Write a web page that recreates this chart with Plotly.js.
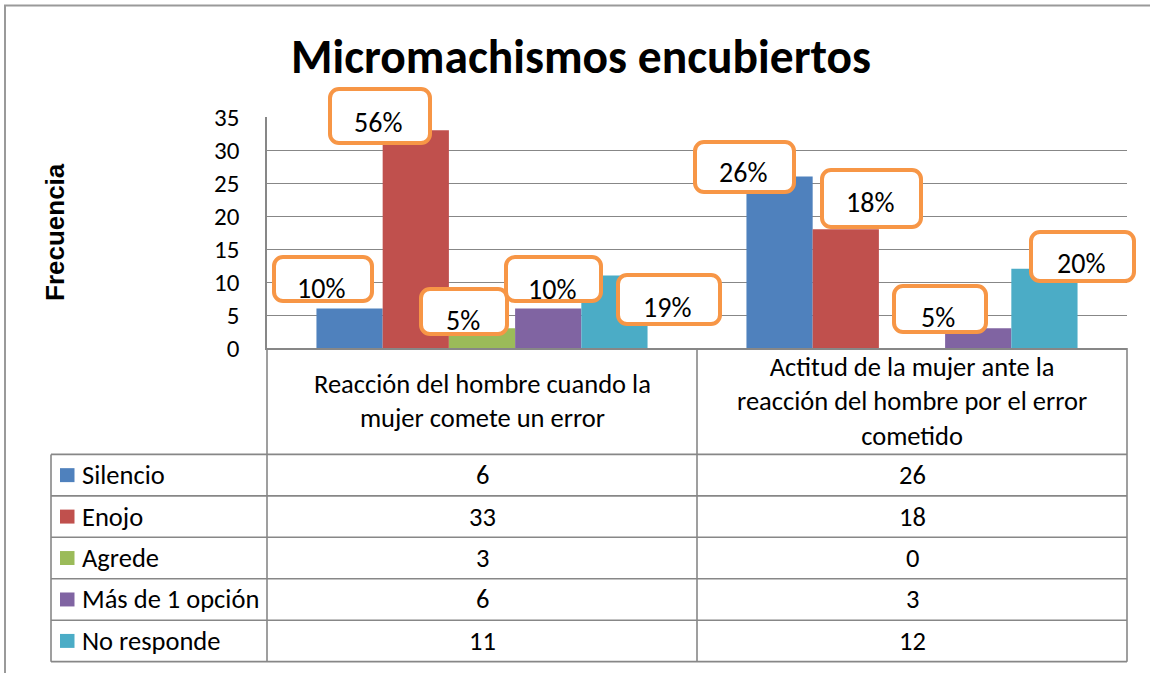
<!DOCTYPE html>
<html><head><meta charset="utf-8">
<script src="https://cdn.plot.ly/plotly-3.0.1.min.js"></script>
<style>html,body{margin:0;padding:0;background:#fff}</style>
</head><body><div id="chart" style="width:1150px;height:673px"></div>
<script>
// ---- data ----
const categories = ["Reacción del hombre cuando la mujer comete un error",
                    "Actitud de la mujer ante la reacción del hombre por el error cometido"];
const categoryLabels = ["Reacción del hombre cuando la<br>mujer comete un error",
                        "Actitud de la mujer ante la<br>reacción del hombre por el error<br>cometido"];
const seriesNames = ["Silencio", "Enojo", "Agrede", "Más de 1 opción", "No responde"];
const silencio   = [6, 26];
const enojo      = [33, 18];
const agrede     = [3, 0];
const masDeUna   = [6, 3];
const noResponde = [11, 12];
const silencioPct   = ["10%", "26%"];
const enojoPct      = ["56%", "18%"];
const agredePct     = ["5%", null];
const masDeUnaPct   = ["10%", "5%"];
const noRespondePct = ["19%", "20%"];
const yTicks = [0, 5, 10, 15, 20, 25, 30, 35];

// ---- styles / layout geometry ----
const colors = ["#4F81BD", "#C0504D", "#9BBB59", "#8064A2", "#4BACC6"];
const seriesValues = [silencio, enojo, agrede, masDeUna, noResponde];
const seriesPct = [silencioPct, enojoPct, agredePct, masDeUnaPct, noRespondePct];
// manual label box placement (px), relative to bar centre / bar top:
// [dx, dy up, outer width, outer height, text drop below box centre]
const labelBox = [
  [[-27, 29.7, 101.6, 47.7, 8.6], [-35.3, 9.9, 103.3, 54, 4.9]],
  [[-36, 13.7, 104, 57.7, 4.6],   [25.6, 30.4, 102.7, 60.7, 2.6]],
  [[-17.8, 16.7, 90, 48.7, 7.1],  null],
  [[5.5, 29.7, 99, 47.7, 9.1],    [-38.7, 19.4, 95.6, 50, 6.8]],
  [[54.5, -24.5, 106, 53.4, 5.8], [37.6, 12.5, 107.4, 52.7, 6.1]]
];
const FONT = "Carlito, Lato, 'Open Sans', sans-serif";
const GRID = "#878787";
const L = 267, R = 1127, T = 116.7, B = 348.3;
const W = 1150, H = 673;
const bargap = 0.23;
const barW = (1 - bargap) / seriesNames.length;
const px = v => (v - L) / (R - L);
const py = v => (B - v) / (B - T);
const tableTop = 455, rowH = 41.55, tableLeft = 51;
const BW = 4, BP = 2;

const traces = seriesNames.map((name, i) => ({
  type: "bar", name: name, x: categories, y: seriesValues[i],
  marker: {color: colors[i], line: {width: 0}}, hoverinfo: "skip"
}));

const boxAnns = [], textAnns = [], annotations = [];
const shapes = [];

// data labels (box + text)
seriesNames.forEach((name, i) => {
  seriesValues[i].forEach((v, j) => {
    const t = seriesPct[i][j];
    const b = labelBox[i][j];
    if (!t || !b) return;
    const xc = j + (i - 2) * barW;
    boxAnns.push({
      xref: "x", yref: "y", x: xc, y: v, xshift: b[0], yshift: b[1],
      text: " ", showarrow: false, xanchor: "center", yanchor: "middle",
      font: {family: FONT, size: 10, color: "#000"},
      bgcolor: "#ffffff", bordercolor: "#F79646", borderwidth: BW, borderpad: BP,
      width: b[2] - 2 * (BW + BP), height: b[3] - 2 * (BW + BP)
    });
    textAnns.push({
      xref: "x", yref: "y", x: xc, y: v, xshift: b[0] - 1.5, yshift: b[1] - b[4] - 1.5,
      text: t, showarrow: false, xanchor: "center", yanchor: "middle",
      font: {family: FONT, size: 28, color: "#000"}
    });
  });
});
annotations.push(...boxAnns, ...textAnns);

// header category labels
categoryLabels.forEach((c, j) => {
  annotations.push({
    xref: "x", yref: "paper", x: j, y: py((B + tableTop) / 2), text: c,
    showarrow: false, xanchor: "center", yanchor: "middle",
    font: {family: FONT, size: 26.5, color: "#000"}
  });
});

// table rows
seriesNames.forEach((name, i) => {
  const cy = tableTop + rowH * (i + 0.5);
  annotations.push({
    xref: "paper", yref: "paper", x: px(80), y: py(cy), text: name,
    showarrow: false, xanchor: "left", yanchor: "middle",
    font: {family: FONT, size: 26.5, color: "#000"}
  });
  shapes.push({type: "rect", xref: "paper", yref: "paper",
    x0: px(60), x1: px(74.5), y0: py(cy - 7), y1: py(cy + 7),
    fillcolor: colors[i], line: {width: 0}});
  seriesValues[i].forEach((v, j) => {
    annotations.push({
      xref: "x", yref: "paper", x: j, y: py(cy), text: String(v),
      showarrow: false, xanchor: "center", yanchor: "middle",
      font: {family: FONT, size: 26.5, color: "#000"}
    });
  });
});

// y axis title
annotations.push({
  xref: "paper", yref: "paper", x: px(55), y: py(232), text: "Frecuencia",
  textangle: -90, showarrow: false, xanchor: "center", yanchor: "middle",
  font: {family: "'Liberation Sans', Arial, sans-serif", size: 26, color: "#000", weight: "bold"}
});

// table grid
const tl = {color: GRID, width: 1.6};
const tableBottom = tableTop + rowH * seriesNames.length;
[L, (L + R) / 2, R].forEach(x => shapes.push({type: "line", xref: "paper", yref: "paper",
  x0: px(x), x1: px(x), y0: py(B), y1: py(tableBottom), line: tl}));
shapes.push({type: "line", xref: "paper", yref: "paper",
  x0: px(tableLeft), x1: px(tableLeft), y0: py(tableTop), y1: py(tableBottom), line: tl});
for (let k = 0; k <= seriesNames.length; k++) {
  const y = tableTop + rowH * k;
  shapes.push({type: "line", xref: "paper", yref: "paper",
    x0: px(tableLeft), x1: px(R), y0: py(y), y1: py(y), line: tl});
}
// outer chart border
shapes.push({type: "rect", xref: "paper", yref: "paper",
  x0: px(5), x1: px(1160), y0: py(5), y1: py(690), line: {color: "#9a9a9a", width: 2}});

const layout = {
  width: W, height: H,
  margin: {l: L, r: W - R, t: T, b: H - B, pad: 0},
  paper_bgcolor: "#fff", plot_bgcolor: "#fff",
  showlegend: false, barmode: "group", bargap: bargap, bargroupgap: 0,
  title: {text: "Micromachismos encubiertos", xref: "container", x: 581 / W, xanchor: "center",
          yref: "container", y: 1 - 56 / H, yanchor: "middle",
          font: {family: FONT, size: 47.5, color: "#000", weight: "bold"}},
  xaxis: {type: "category", range: [-0.5, 1.5], showticklabels: false, ticks: "",
          showgrid: false, zeroline: false, showline: true, linecolor: GRID, linewidth: 1.6, fixedrange: true},
  yaxis: {range: [0, 35], tickvals: yTicks, ticktext: yTicks.map(String), ticks: "",
          ticklabelstandoff: 21,
          showgrid: true, gridcolor: GRID, gridwidth: 1, zeroline: false,
          showline: true, linecolor: GRID, linewidth: 1.6,
          tickfont: {family: FONT, size: 25, color: "#000"}, fixedrange: true},
  annotations: annotations, shapes: shapes
};

Plotly.newPlot("chart", traces, layout, {staticPlot: true}).then(() => {
  document.querySelectorAll(".annotation rect.bg").forEach(r => {
    const sw = parseFloat(r.style.strokeWidth || r.getAttribute("stroke-width") || 0);
    if (sw > 0) { r.setAttribute("rx", 9); r.setAttribute("ry", 9); }
  });
});
</script></body></html>
